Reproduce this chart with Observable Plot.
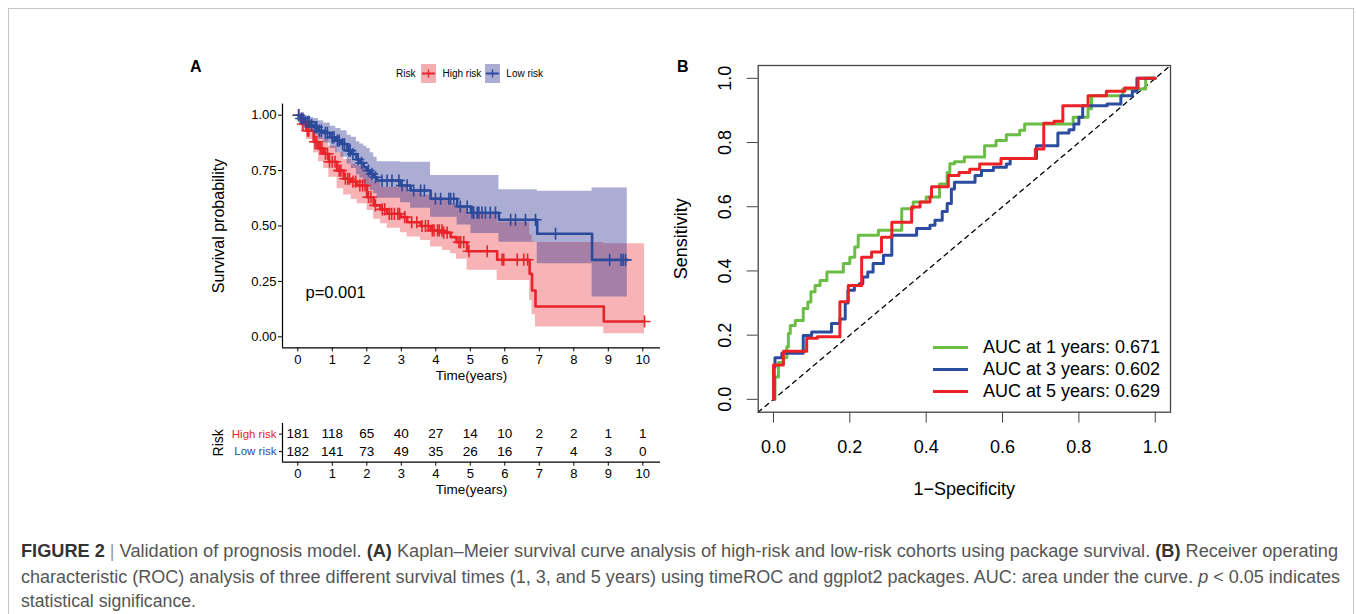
<!DOCTYPE html>
<html>
<head>
<meta charset="utf-8">
<script src="https://cdn.jsdelivr.net/npm/d3@7"></script>
<script src="https://cdn.jsdelivr.net/npm/@observablehq/plot@0.6"></script>
<style>
  html, body { margin:0; padding:0; background:#fff; }
  #fig { position:relative; width:1356px; height:614px; overflow:hidden; font-family:"Liberation Sans", Arial, Helvetica, sans-serif; color:#000; }
  #border { position:absolute; left:8px; top:8px; width:1346px; height:660px; border:1.5px solid #c6c6c6; box-sizing:border-box; }
  .abs { position:absolute; }
  .plab { font-weight:bold; font-size:16px; line-height:16px; }
  #legA { display:flex; align-items:center; font-size:10px; height:20px; white-space:nowrap; }
  #legA svg { display:block; }
  #legB { font-size:18px; }
  #legB .row { display:flex; align-items:center; height:22px; white-space:nowrap; }
  #legB .sw { width:35px; height:3px; margin-right:15px; }
  .cap { position:absolute; left:21px; white-space:nowrap; font-size:17.5px; line-height:24px; color:#555; transform-origin:0 50%; }
  .cap b { color:#333; }
</style>
</head>
<body>
<div id="fig">
  <div id="border"></div>
  <div class="abs plab" style="left:190px;top:59px;">A</div>
  <div class="abs plab" style="left:677px;top:59px;">B</div>
  <div id="legA" class="abs" style="left:396px;top:63px;"></div>
  <div id="kmWrap" class="abs" style="left:180px;top:95px;width:480px;height:300px;"></div>
  <div id="riskWrap" class="abs" style="left:180px;top:415px;width:480px;height:90px;"></div>
  <div id="rocWrap" class="abs" style="left:660px;top:55px;width:530px;height:460px;"></div>
  <div id="legB" class="abs" style="left:933px;top:336px;"></div>
  <div id="cap1" class="cap" style="top:539px;"><b>FIGURE 2</b> <span style="color:#999">|</span> Validation of prognosis model. <b>(A)</b> Kaplan–Meier survival curve analysis of high-risk and low-risk cohorts using package survival. <b>(B)</b> Receiver operating</div>
  <div id="cap2" class="cap" style="top:565px;">characteristic (ROC) analysis of three different survival times (1, 3, and 5 years) using timeROC and ggplot2 packages. AUC: area under the curve. <i>p</i> &lt; 0.05 indicates</div>
  <div id="cap3" class="cap" style="top:589px;">statistical significance.</div>
</div>
<script>
// ---------------- Panel A data ----------------
const years = [0, 1, 2, 3, 4, 5, 6, 7, 8, 9, 10];
const survTicks = [0, 0.25, 0.5, 0.75, 1];
const riskGroups = ["High risk", "Low risk"];
const groupColors = ["#E8242B", "#2B4A9C"];
const pValueLabel = "p=0.001";

// High risk KM curve (step points) with 95% CI
const highTime  = [0, 0.1, 0.25, 0.46, 0.6, 0.75, 0.9, 1.14, 1.33, 1.55, 1.72, 2.01, 2.2, 2.4, 2.59, 2.98, 3.17, 3.56, 3.85, 4.2, 4.43, 4.6, 4.91, 5.78, 6.72, 6.79, 6.89, 8.87, 10.05];
const highSurv  = [1, 0.96, 0.93, 0.88, 0.85, 0.826, 0.79, 0.75, 0.713, 0.70, 0.683, 0.63, 0.593, 0.575, 0.555, 0.54, 0.517, 0.50, 0.48, 0.47, 0.45, 0.427, 0.386, 0.348, 0.284, 0.209, 0.137, 0.069, 0.069];
const highLower = [1, 0.93, 0.89, 0.83, 0.79, 0.76, 0.72, 0.668, 0.64, 0.62, 0.60, 0.57, 0.53, 0.51, 0.49, 0.47, 0.45, 0.435, 0.405, 0.39, 0.375, 0.35, 0.30, 0.254, 0.164, 0.10, 0.044, 0.014, 0.014];
const highUpper = [1, 0.99, 0.976, 0.93, 0.91, 0.89, 0.86, 0.83, 0.80, 0.78, 0.77, 0.743, 0.70, 0.675, 0.675, 0.675, 0.65, 0.64, 0.63, 0.62, 0.60, 0.585, 0.556, 0.517, 0.46, 0.43, 0.425, 0.42, 0.42];
const highCensor = [0.02, 0.15, 0.28, 0.32, 0.5, 0.55, 0.65, 0.7, 0.8, 0.86, 0.92, 1.0, 1.08, 1.2, 1.25, 1.38, 1.45, 1.5, 1.6, 1.68, 1.8, 1.88, 1.95, 2.05, 2.12, 2.25, 2.45, 2.52, 2.65, 2.72, 2.8, 2.9, 2.95, 3.1, 3.3, 3.45, 3.6, 3.7, 3.78, 3.9, 3.95, 4.05, 4.1, 4.18, 4.23, 4.33, 4.67, 4.72, 4.81, 4.96, 5.49, 5.92, 5.97, 6.36, 6.55, 6.66, 10.05];

// Low risk KM curve (step points) with 95% CI
const lowTime  = [0, 0.1, 0.2, 0.35, 0.46, 0.6, 0.75, 0.94, 1.1, 1.25, 1.43, 1.55, 1.7, 1.8, 1.91, 2.0, 2.1, 2.2, 2.3, 2.98, 3.27, 3.85, 4.62, 5.02, 5.83, 6.94, 8.53, 9.55];
const lowSurv  = [1, 0.985, 0.97, 0.955, 0.946, 0.93, 0.92, 0.90, 0.885, 0.87, 0.84, 0.825, 0.80, 0.785, 0.765, 0.75, 0.735, 0.72, 0.705, 0.683, 0.66, 0.623, 0.588, 0.56, 0.528, 0.465, 0.347, 0.347];
const lowLower = [1, 0.965, 0.945, 0.925, 0.91, 0.89, 0.875, 0.85, 0.83, 0.81, 0.78, 0.76, 0.73, 0.715, 0.69, 0.675, 0.66, 0.645, 0.625, 0.605, 0.58, 0.54, 0.505, 0.466, 0.427, 0.33, 0.18, 0.18];
const lowUpper = [1, 1, 0.995, 0.99, 0.985, 0.975, 0.965, 0.95, 0.94, 0.93, 0.91, 0.90, 0.88, 0.87, 0.86, 0.85, 0.83, 0.81, 0.79, 0.788, 0.788, 0.728, 0.728, 0.728, 0.663, 0.657, 0.672, 0.672];
const lowCensor = [0.03, 0.1, 0.15, 0.22, 0.28, 0.33, 0.4, 0.5, 0.55, 0.62, 0.68, 0.8, 0.86, 1.0, 1.05, 1.15, 1.2, 1.3, 1.35, 1.48, 1.52, 1.6, 1.75, 1.85, 2.05, 2.15, 2.25, 2.44, 2.59, 2.73, 2.93, 3.02, 3.17, 3.36, 3.56, 3.67, 3.99, 4.14, 4.38, 4.43, 4.52, 4.71, 4.91, 5.05, 5.10, 5.20, 5.25, 5.34, 5.44, 5.58, 5.73, 6.17, 6.31, 6.60, 6.89, 7.47, 9.04, 9.37, 9.43, 9.5];

// Number at risk
const riskHigh = [181, 118, 65, 40, 27, 14, 10, 2, 2, 1, 1];
const riskLow  = [182, 141, 73, 49, 35, 26, 16, 7, 4, 3, 0];

// ---------------- Panel B data (ROC staircases: plateau start points) ----------------
const rocTicks = [0, 0.2, 0.4, 0.6, 0.8, 1.0];
const rocLabels = ["AUC at 1 years: 0.671", "AUC at 3 years: 0.602", "AUC at 5 years: 0.629"];
const rocColors = ["#6BBE45", "#2B4C9F", "#EC2227"];
const roc1X = [0, 0.004, 0.013, 0.026, 0.035, 0.039, 0.044, 0.057, 0.078, 0.09, 0.098, 0.109, 0.122, 0.14, 0.183, 0.2, 0.213, 0.222, 0.275, 0.336, 0.366, 0.40, 0.435, 0.455, 0.462, 0.474, 0.50, 0.553, 0.583, 0.61, 0.645, 0.658, 0.785, 0.824, 0.833, 0.915, 0.975, 1.0];
const roc1Y = [0, 0.07, 0.115, 0.13, 0.164, 0.205, 0.23, 0.246, 0.283, 0.303, 0.335, 0.355, 0.37, 0.397, 0.423, 0.443, 0.475, 0.511, 0.527, 0.594, 0.615, 0.63, 0.671, 0.707, 0.734, 0.74, 0.755, 0.79, 0.806, 0.824, 0.838, 0.858, 0.879, 0.905, 0.946, 0.967, 1.0, 1.0];
const roc3X = [0, 0.002, 0.004, 0.022, 0.078, 0.10, 0.152, 0.174, 0.188, 0.195, 0.212, 0.225, 0.234, 0.247, 0.261, 0.288, 0.31, 0.375, 0.41, 0.423, 0.442, 0.455, 0.466, 0.474, 0.528, 0.545, 0.576, 0.61, 0.62, 0.689, 0.745, 0.774, 0.787, 0.80, 0.81, 0.874, 0.91, 0.94, 0.952, 1.0];
const roc3Y = [0, 0.10, 0.13, 0.144, 0.199, 0.21, 0.236, 0.25, 0.30, 0.34, 0.355, 0.36, 0.381, 0.397, 0.423, 0.449, 0.511, 0.532, 0.542, 0.558, 0.585, 0.61, 0.655, 0.676, 0.697, 0.713, 0.723, 0.733, 0.75, 0.79, 0.83, 0.84, 0.858, 0.879, 0.915, 0.92, 0.946, 0.96, 1.0, 1.0];
const roc5X = [0, 0, 0.026, 0.087, 0.115, 0.174, 0.196, 0.231, 0.257, 0.283, 0.31, 0.362, 0.384, 0.41, 0.414, 0.458, 0.486, 0.514, 0.54, 0.596, 0.686, 0.708, 0.735, 0.758, 0.824, 0.872, 0.92, 0.955, 1.0];
const roc5Y = [0, 0.107, 0.15, 0.19, 0.195, 0.304, 0.355, 0.443, 0.459, 0.505, 0.552, 0.599, 0.615, 0.63, 0.662, 0.697, 0.707, 0.717, 0.733, 0.75, 0.78, 0.86, 0.866, 0.915, 0.946, 0.96, 0.97, 1.0, 1.0];

// ---------------- build ----------------
const FONT = '"Liberation Sans", Arial, Helvetica, sans-serif';
const red = groupColors[0], blue = groupColors[1];

function rowsOf(t, s, lo, hi) { return t.map((d, i) => ({t: d, s: s[i], lo: lo[i], hi: hi[i]})); }
function stepAt(times, vals, t) { const i = d3.bisectRight(times, t) - 1; return vals[Math.max(0, i)]; }

const highRows = rowsOf(highTime, highSurv, highLower, highUpper);
const lowRows = rowsOf(lowTime, lowSurv, lowLower, lowUpper);
const highCens = highCensor.map(t => ({t, s: stepAt(highTime, highSurv, t)}));
const lowCens = lowCensor.map(t => ({t, s: stepAt(lowTime, lowSurv, t)}));

const xDom = [-0.443, 10.513];
const yDom = [-0.05, 1.05];

const km = Plot.plot({
  width: 480, height: 300,
  marginLeft: 102, marginRight: 0, marginTop: 8.6, marginBottom: 47.6,
  x: {domain: xDom},
  y: {domain: yDom},
  style: {fontFamily: FONT, fontSize: "13px", background: "transparent", overflow: "visible", color: "#000"},
  marks: [
    Plot.areaY(highRows, {x: "t", y1: "lo", y2: "hi", curve: "step-after", fill: red, fillOpacity: 0.35}),
    Plot.areaY(lowRows, {x: "t", y1: "lo", y2: "hi", curve: "step-after", fill: "#2E3192", fillOpacity: 0.4}),
    Plot.line(highRows, {x: "t", y: "s", curve: "step-after", stroke: red, strokeWidth: 2.6}),
    Plot.line(lowRows, {x: "t", y: "s", curve: "step-after", stroke: blue, strokeWidth: 2.6}),
    Plot.dot(highCens, {x: "t", y: "s", symbol: "plus", r: 4, stroke: red, strokeWidth: 1.6}),
    Plot.dot(lowCens, {x: "t", y: "s", symbol: "plus", r: 4, stroke: blue, strokeWidth: 1.6}),
    Plot.ruleX([xDom[0]], {y1: yDom[0], y2: yDom[1], stroke: "#000", strokeWidth: 1.2}),
    Plot.ruleY([yDom[0]], {x1: xDom[0], x2: xDom[1], stroke: "#000", strokeWidth: 1.2}),
    Plot.axisX({ticks: years, tickSize: 4, tickPadding: 3, label: null, fontSize: 13}),
    Plot.axisY({ticks: survTicks, tickFormat: d3.format(".2f"), tickSize: 4, tickPadding: 2, label: null, fontSize: 13}),
    Plot.text(["Time(years)"], {frameAnchor: "bottom", dy: 32.5, fontSize: 13.5}),
    Plot.text(["Survival probability"], {frameAnchor: "left", dx: -64, rotate: -90, textAnchor: "middle", fontSize: 16}),
    Plot.text([pValueLabel], {frameAnchor: "bottom-left", dx: 23, dy: -50, textAnchor: "start", fontSize: 16.5})
  ]
});
document.getElementById("kmWrap").appendChild(km);

// Risk table
const riskRows = [];
years.forEach((y, i) => {
  riskRows.push({t: y, g: 1, n: riskHigh[i]});
  riskRows.push({t: y, g: 0, n: riskLow[i]});
});
const rDom = [-0.606, 1.606];
const risk = Plot.plot({
  width: 480, height: 90,
  marginLeft: 102, marginRight: 0, marginTop: 8, marginBottom: 43.3,
  x: {domain: xDom},
  y: {domain: rDom},
  style: {fontFamily: FONT, fontSize: "13px", background: "transparent", overflow: "visible", color: "#000"},
  marks: [
    Plot.text(riskRows, {x: "t", y: "g", text: "n", fontSize: 13.5}),
    Plot.ruleX([xDom[0]], {y1: rDom[0], y2: rDom[1], stroke: "#000", strokeWidth: 1.2}),
    Plot.ruleY([rDom[0]], {x1: xDom[0], x2: xDom[1], stroke: "#000", strokeWidth: 1.2}),
    Plot.axisX({ticks: years, tickSize: 4, tickPadding: 3, label: null, fontSize: 13}),
    Plot.axisY({ticks: [0, 1], tickSize: 3, tickFormat: () => "", label: null}),
    Plot.text(riskGroups, {y: (d, i) => 1 - i, frameAnchor: "left", dx: -6, textAnchor: "end", fill: (d, i) => groupColors[i], fontSize: 11.5}),
    Plot.text(["Risk"], {frameAnchor: "left", dx: -64, rotate: -90, textAnchor: "middle", fontSize: 14}),
    Plot.text(["Time(years)"], {frameAnchor: "bottom", dy: 31.5, fontSize: 13.5})
  ]
});
document.getElementById("riskWrap").appendChild(risk);

// ROC
const rocData = [[roc1X, roc1Y], [roc3X, roc3Y], [roc5X, roc5Y]].map(([xs, ys], k) => xs.map((x, i) => ({x, y: ys[i], k})));
const rDomB = [-0.04, 1.04];
const fmt1 = d3.format(".1f");
const roc = Plot.plot({
  width: 530, height: 460,
  marginLeft: 97.7, marginRight: 20, marginTop: 10, marginBottom: 103.3,
  x: {domain: rDomB},
  y: {domain: rDomB},
  style: {fontFamily: FONT, fontSize: "18px", background: "transparent", overflow: "visible", color: "#000"},
  marks: [
    Plot.line(rDomB, {x: d => d, y: d => d, stroke: "#000", strokeWidth: 1.3, strokeDasharray: "4.5,4.5"}),
    ...rocData.map((rows, k) => Plot.line(rows, {x: "x", y: "y", curve: "step-after", stroke: rocColors[k], strokeWidth: 3})),
    Plot.frame({stroke: "#444", strokeWidth: 1.3}),
    Plot.axisX({ticks: rocTicks, tickFormat: fmt1, tickSize: 11, tickPadding: 17, label: null, fontSize: 18, stroke: "#444"}),
    Plot.axisY({ticks: rocTicks, tickFormat: () => "", tickSize: 11, label: null, stroke: "#444"}),
    Plot.text(rocTicks, {y: d => d, text: fmt1, frameAnchor: "left", dx: -32.7, rotate: -90, textAnchor: "middle", fontSize: 18}),
    Plot.text(["1\u2212Specificity"], {frameAnchor: "bottom", dy: 82.5, fontSize: 18}),
    Plot.text(["Sensitivity"], {frameAnchor: "left", dx: -77, rotate: -90, textAnchor: "middle", fontSize: 18})
  ]
});
document.getElementById("rocWrap").appendChild(roc);

// Legend A
const legA = document.getElementById("legA");
const riskSpan = document.createElement("span");
riskSpan.textContent = "Risk";
riskSpan.style.marginRight = "6px";
legA.appendChild(riskSpan);
riskGroups.forEach((g, i) => {
  const fill = i === 0 ? "#F4AEB1" : "#ABACD4";
  const sw = d3.create("svg").attr("width", 15).attr("height", 19).style("margin-right", "6px");
  sw.append("rect").attr("width", 15).attr("height", 19).attr("fill", fill);
  sw.append("line").attr("x1", 1).attr("x2", 14).attr("y1", 9.5).attr("y2", 9.5).attr("stroke", groupColors[i]).attr("stroke-width", 2);
  sw.append("line").attr("x1", 7.5).attr("x2", 7.5).attr("y1", 5.5).attr("y2", 13.5).attr("stroke", groupColors[i]).attr("stroke-width", 1.4);
  legA.appendChild(sw.node());
  const s = document.createElement("span");
  s.textContent = g;
  s.style.marginRight = i === 0 ? "4px" : "0";
  legA.appendChild(s);
});

// Legend B
const legB = document.getElementById("legB");
rocLabels.forEach((lab, k) => {
  const row = document.createElement("div");
  row.className = "row";
  const sw = document.createElement("div");
  sw.className = "sw";
  sw.style.background = rocColors[k];
  const tx = document.createElement("span");
  tx.textContent = lab;
  row.appendChild(sw); row.appendChild(tx);
  legB.appendChild(row);
});

// Caption fitting
[["cap1", 1317], ["cap2", 1319], ["cap3", 175]].forEach(([id, w]) => {
  const el = document.getElementById(id);
  const nat = el.getBoundingClientRect().width;
  el.style.transform = `scaleX(${w / nat})`;
});
</script>
</body>
</html>
